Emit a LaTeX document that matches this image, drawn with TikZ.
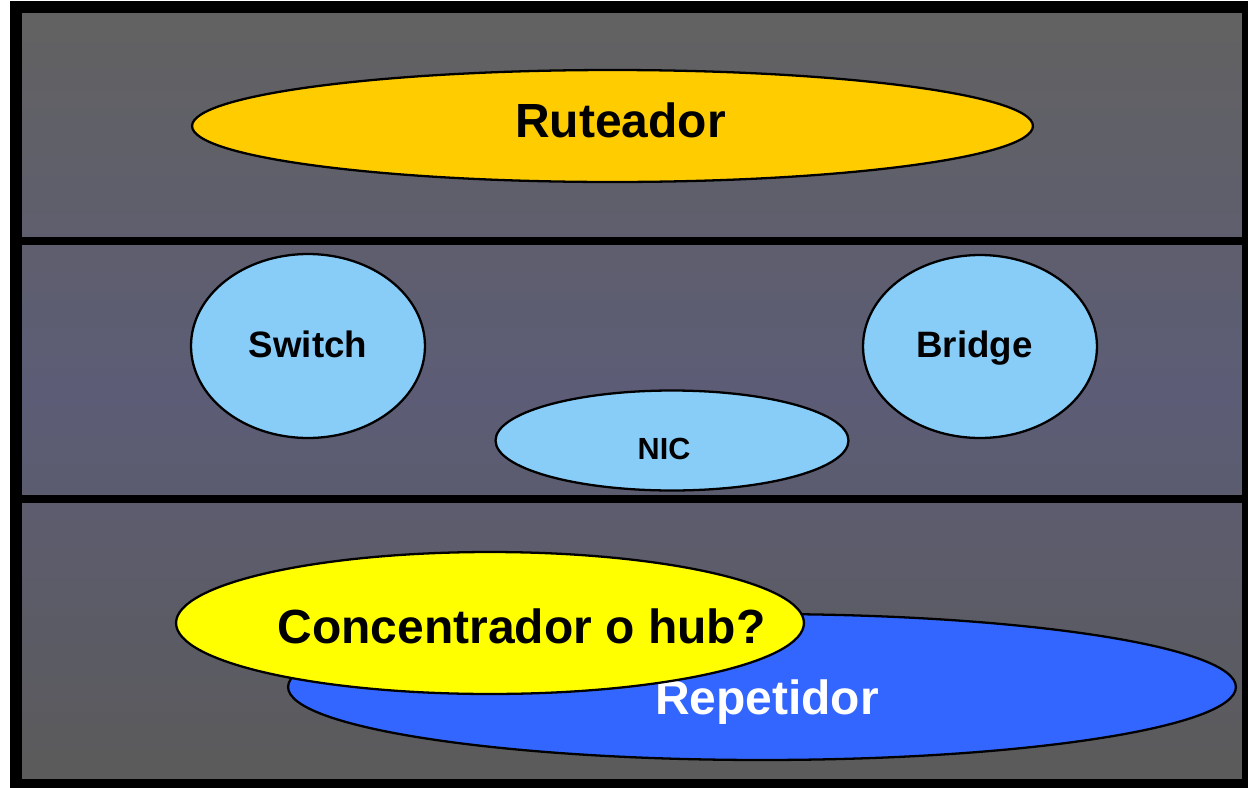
\documentclass[tikz,border=0pt]{standalone}
\usepackage{fontspec}
\setmainfont{Liberation Sans}
\usetikzlibrary{shapes.geometric}
\definecolor{ruteo}{RGB}{255,204,0}
\definecolor{celeste}{RGB}{136,204,248}
\definecolor{azul}{RGB}{51,102,255}
\definecolor{amarillo}{RGB}{255,255,0}
\definecolor{fondoA}{RGB}{98,98,98}
\definecolor{fondoB}{RGB}{92,92,118}
\definecolor{fondoC}{RGB}{91,91,91}
\tikzset{
  capa/.style={ellipse,draw=black,line width=1.3pt,inner sep=0pt},
  grande/.style={font=\fontsize{27.3}{32}\selectfont\bfseries,anchor=base,inner sep=0pt},
  medio/.style={font=\fontsize{20.9}{25}\selectfont\bfseries,anchor=base,inner sep=0pt},
  chico/.style={font=\fontsize{17.4}{21}\selectfont\bfseries,anchor=base,inner sep=0pt}
}
\begin{document}
\begin{tikzpicture}[x=0.02cm,y=-0.02cm]
 \useasboundingbox (0,0) rectangle (1248,788);
 \fill[black](10,1) rectangle (1248,788);
 % fondo degradado
 \foreach \i in {0,...,39}{
   \pgfmathsetmacro{\pc}{100*\i/39}
   \fill[fondoB!\pc!fondoA](22,{13+\i*9.575}) rectangle (1242,{13+(\i+1)*9.575+0.5});
   \fill[fondoC!\pc!fondoB](22,{396+\i*9.575}) rectangle (1242,{396+(\i+1)*9.575+0.5});
 }
 \fill[black](22,779) rectangle (1242,788);
 \fill[black](22,237) rectangle (1242,245);
 \fill[black](22,495) rectangle (1242,503);
 % capa de red
 \node[capa,fill=ruteo,minimum width=16.82cm,minimum height=2.24cm] (rut) at (612.5,126) {};
 \node[grande] (rutTxt) at (620.5,137) {Ruteador};
 % capa de enlace
 \node[capa,fill=celeste,minimum width=4.68cm,minimum height=3.68cm] (sw) at (308,346) {};
 \node[medio] (swTxt) at (308,357) {Switch};
 \node[capa,fill=celeste,minimum width=4.68cm,minimum height=3.66cm] (br) at (980,346.5) {};
 \node[medio] (brTxt) at (974.5,357) {Bridge};
 \node[capa,fill=celeste,minimum width=7.06cm,minimum height=2.0cm] (nic) at (672,440.5) {};
 \node[chico] (nicTxt) at (664,459) {NIC};
 % capa fisica
 \node[capa,fill=azul,minimum width=18.96cm,minimum height=2.92cm] (rep) at (762,687) {};
 \node[grande,text=white] (repTxt) at (767,714) {Repetidor};
 \node[capa,fill=amarillo,minimum width=12.56cm,minimum height=2.84cm] (hub) at (490,623) {};
 \node[grande] (hubTxt) at (521.5,643) {Concentrador o hub?};
\end{tikzpicture}
\end{document}
